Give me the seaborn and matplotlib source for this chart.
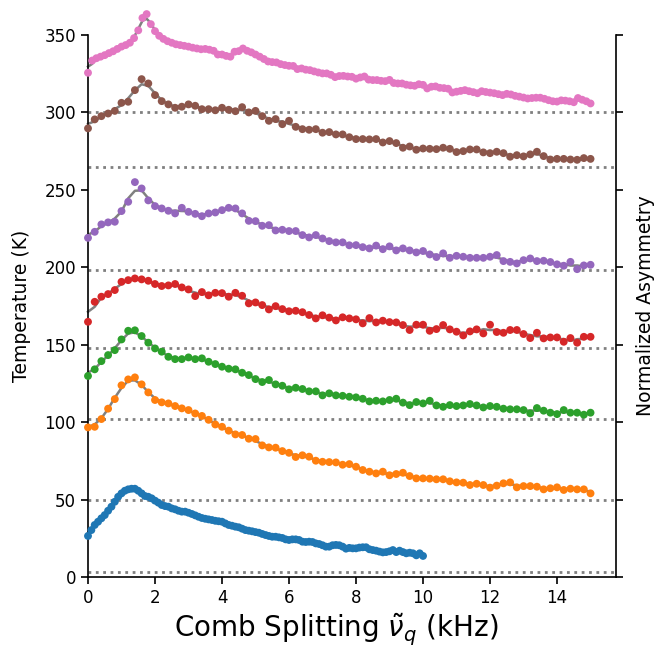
import numpy as np
import pandas as pd
import matplotlib
matplotlib.use("Agg")
import matplotlib.pyplot as plt
import seaborn as sns

# temperatures used as vertical offsets (K)
temps = [3.5, 50, 102, 148, 198, 265, 300]
names = ["blue", "orange", "green", "red", "purple", "brown", "pink"]

# 4 K spectrum, 0-10 kHz in 0.1 kHz steps
blue = [26.5, 30.3, 33.6, 35.7, 37.9, 40.0, 42.8, 45.4, 48.6, 51.8,
        54.0, 55.7, 56.6, 57.0, 57.0, 55.7, 54.0, 52.3, 51.8, 50.8,
        49.3, 48.0, 46.5, 45.8, 45.4, 44.3, 43.7, 42.8, 42.2, 42.2,
        41.5, 40.7, 39.8, 38.9, 38.1, 37.6, 37.2, 36.8, 36.3, 36.0,
        35.7, 34.6, 33.6, 33.1, 32.5, 32.1, 31.2, 30.3, 29.9, 29.5,
        29.0, 28.6, 27.8, 27.1, 26.5, 26.0, 26.0, 25.6, 25.2, 24.3,
        23.9, 24.3, 24.3, 23.9, 22.8, 22.6, 22.8, 22.6, 21.7, 21.3,
        20.5, 19.6, 19.6, 20.5, 20.7, 20.5, 19.6, 18.3, 18.8, 18.5,
        18.5, 19.0, 19.2, 19.2, 17.9, 17.4, 17.0, 16.4, 15.9, 16.1,
        16.6, 17.4, 16.1, 17.0, 16.1, 15.3, 15.7, 15.3, 14.0, 15.3,
        13.6]

# 0-15 kHz in 0.2 kHz steps
orange = [96.6, 97.0, 102.0, 108.7, 114.9, 123.8, 127.6, 128.9, 124.4, 119.2,
          114.3, 112.8, 112.1, 110.4, 108.9, 107.8, 105.6, 104.0, 101.5, 98.5,
          97.0, 94.5, 92.1, 91.7, 89.3, 89.1, 85.0, 83.7, 83.5, 81.3,
          80.2, 77.5, 78.6, 77.7, 75.1, 74.4, 74.2, 74.0, 72.5, 72.9,
          71.2, 69.1, 68.0, 66.9, 68.0, 65.7, 66.5, 67.3, 65.2, 63.7,
          63.7, 63.5, 63.1, 63.1, 61.8, 61.1, 60.9, 59.4, 60.2, 59.4,
          57.7, 59.0, 60.5, 61.1, 57.9, 58.7, 58.7, 58.3, 56.6, 57.3,
          57.9, 56.2, 57.0, 56.6, 56.6, 54.0]
green = [129.8, 134.1, 139.4, 143.3, 146.5, 153.4, 159.0, 159.3, 155.6, 151.3,
         147.6, 145.5, 142.2, 140.7, 140.7, 141.8, 140.7, 141.2, 139.0, 137.5,
         135.8, 134.5, 134.1, 131.9, 130.4, 127.8, 125.9, 127.2, 124.4, 123.5,
         121.2, 122.2, 121.4, 119.9, 119.9, 117.3, 118.6, 117.3, 117.0, 116.4,
         116.0, 115.1, 113.4, 113.8, 113.4, 114.3, 115.1, 112.6, 111.0, 113.0,
         112.1, 113.8, 110.8, 109.9, 111.0, 110.4, 110.8, 111.7, 110.8, 109.5,
         110.4, 109.9, 108.7, 108.3, 108.3, 107.8, 105.7, 109.1, 107.4, 106.1,
         105.2, 107.8, 106.1, 106.1, 104.8, 106.1]
red = [164.8, 177.7, 181.0, 182.7, 185.3, 190.6, 191.7, 192.8, 192.2, 191.3,
       189.2, 187.9, 188.3, 189.2, 187.0, 185.7, 181.4, 184.0, 181.9, 183.5,
       183.3, 181.0, 183.5, 181.6, 176.7, 177.3, 175.6, 172.8, 174.9, 173.0,
       171.6, 171.9, 171.0, 169.2, 167.0, 169.0, 167.5, 165.7, 167.7, 167.0,
       166.4, 163.8, 167.2, 164.4, 165.5, 164.6, 164.4, 162.7, 159.5, 162.9,
       162.9, 159.0, 160.1, 162.7, 159.9, 158.4, 156.0, 158.6, 159.9, 157.3,
       162.9, 158.2, 157.7, 159.5, 159.5, 156.9, 154.3, 157.7, 154.1, 154.7,
       154.7, 151.9, 154.3, 151.3, 155.1, 155.1]
purple = [219.0, 222.9, 227.7, 229.0, 229.4, 236.3, 242.3, 255.0, 250.9, 243.2,
          239.5, 238.0, 236.5, 234.8, 238.4, 235.8, 234.5, 233.0, 234.8, 235.4,
          236.9, 238.4, 238.0, 234.8, 230.0, 229.8, 226.8, 227.2, 223.8, 224.2,
          223.4, 223.4, 220.8, 219.3, 220.8, 218.6, 216.9, 216.1, 216.1, 214.2,
          214.3, 213.0, 212.2, 214.0, 211.7, 213.5, 210.9, 212.2, 210.9, 209.6,
          210.5, 208.3, 206.6, 209.0, 206.1, 207.4, 206.8, 206.1, 206.1, 206.1,
          206.8, 207.9, 204.0, 203.5, 202.5, 204.6, 205.7, 204.0, 204.2, 203.4,
          201.9, 201.0, 203.5, 198.8, 201.2, 201.6]
brown = [289.7, 295.5, 297.6, 299.3, 301.0, 306.2, 306.9, 314.4, 321.5, 318.7,
         311.2, 307.3, 305.2, 303.0, 303.7, 305.2, 304.3, 302.1, 302.1, 301.4,
         303.0, 301.7, 300.8, 303.4, 300.0, 301.0, 297.6, 294.6, 295.7, 292.4,
         294.6, 290.7, 289.2, 288.8, 289.2, 286.9, 287.3, 285.8, 285.8, 284.0,
         282.8, 282.8, 282.6, 282.8, 280.6, 281.5, 280.2, 277.2, 278.0, 275.9,
         276.7, 276.5, 276.3, 277.2, 276.5, 274.4, 275.0, 276.1, 276.1, 274.2,
         273.7, 274.6, 273.7, 271.4, 272.4, 271.6, 272.9, 274.6, 271.8, 269.6,
         270.0, 270.0, 269.6, 269.4, 270.5, 270.0]
# 0-15 kHz in 0.125 kHz steps
pink = [325.6, 333.5, 335.0, 336.0, 337.0, 338.3, 339.5, 341.0,
        342.5, 343.5, 345.0, 348.0, 353.0, 361.0, 363.5, 357.0,
        352.5, 349.5, 347.5, 346.0, 345.0, 344.0, 343.5, 343.0,
        342.5, 341.8, 341.3, 340.8, 341.0, 340.5, 339.8, 337.4,
        337.4, 336.5, 336.0, 339.2, 339.6, 341.3, 339.8, 338.8,
        337.4, 336.0, 334.5, 332.9, 332.5, 332.3, 331.2, 330.6,
        330.1, 330.0, 328.0, 328.4, 327.6, 327.3, 326.5, 325.8,
        325.2, 325.2, 324.3, 322.8, 323.5, 323.6, 323.2, 323.0,
        321.8, 322.6, 323.2, 321.2, 320.9, 320.9, 320.4, 320.2,
        321.0, 319.0, 318.7, 318.7, 317.9, 317.5, 317.2, 318.2,
        317.8, 315.5, 316.6, 316.8, 315.9, 315.7, 315.3, 312.9,
        313.4, 313.9, 314.4, 313.7, 313.1, 312.4, 313.7, 313.2,
        312.8, 312.4, 311.8, 311.2, 312.0, 311.6, 310.7, 310.2,
        309.6, 309.0, 309.3, 309.5, 309.5, 308.8, 307.9, 307.2,
        307.0, 307.8, 307.6, 307.2, 306.6, 309.3, 308.2, 307.2,
        305.8]

series = {"blue": (blue, 10), "orange": (orange, 15), "green": (green, 15),
          "red": (red, 15), "purple": (purple, 15), "brown": (brown, 15),
          "pink": (pink, 15)}

frames = []
for name in names:
    vals, xmax = series[name]
    frames.append(pd.DataFrame({"freq": np.linspace(0, xmax, len(vals)),
                                "signal": vals, "series": name}))
df = pd.concat(frames, ignore_index=True)
# smooth guide line through each spectrum
df["fit"] = df.groupby("series")["signal"].transform(
    lambda s: s.rolling(3, center=True, min_periods=1).mean())

plt.rcParams["font.family"] = "DejaVu Sans"
plt.rcParams["mathtext.fontset"] = "dejavusans"

fig = plt.figure(figsize=(6.67, 6.48), dpi=100)
ax = fig.add_axes([88 / 667, 71 / 648, 528 / 667, 542 / 648])

for t in temps:
    ax.axhline(t, color="grey", ls=":", lw=2, zorder=1)

sns.lineplot(data=df, x="freq", y="fit", units="series", estimator=None,
             color="grey", lw=1.8, ax=ax, zorder=2, clip_on=False)
sns.scatterplot(data=df, x="freq", y="signal", hue="series", hue_order=names,
                palette=sns.color_palette("tab10", 7), s=32, linewidth=0,
                legend=False, ax=ax, zorder=3, clip_on=False)

ax.set_xlim(0, 15.76)
ax.set_ylim(0, 350)
ax.set_xticks(range(0, 15, 2))
ax.set_yticks(range(0, 351, 50))
ax.set_xlabel(r"Comb Splitting $\tilde{\nu}_q$ (kHz)", fontsize=20)
ax.xaxis.set_label_coords(0.47, -0.065, transform=ax.transAxes)
ax.xaxis.label.set_va("top")
ax.set_ylabel("Temperature (K)", fontsize=13.5, labelpad=10)
ax.tick_params(labelsize=12, length=5, width=1.2)
for side in ["left", "bottom"]:
    ax.spines[side].set_linewidth(1.2)
ax.spines["top"].set_visible(False)
ax.spines["right"].set_visible(False)

ax2 = ax.twinx()
ax2.set_ylim(0, 350)
ax2.set_yticks(range(0, 351, 50))
ax2.set_yticklabels([])
ax2.tick_params(length=5, width=1.2)
ax2.set_ylabel("Normalized Asymmetry", fontsize=13.5, labelpad=6)
for side in ["left", "top", "bottom"]:
    ax2.spines[side].set_visible(False)
ax2.spines["right"].set_linewidth(1.2)

fig.savefig("out.png", dpi=100)
